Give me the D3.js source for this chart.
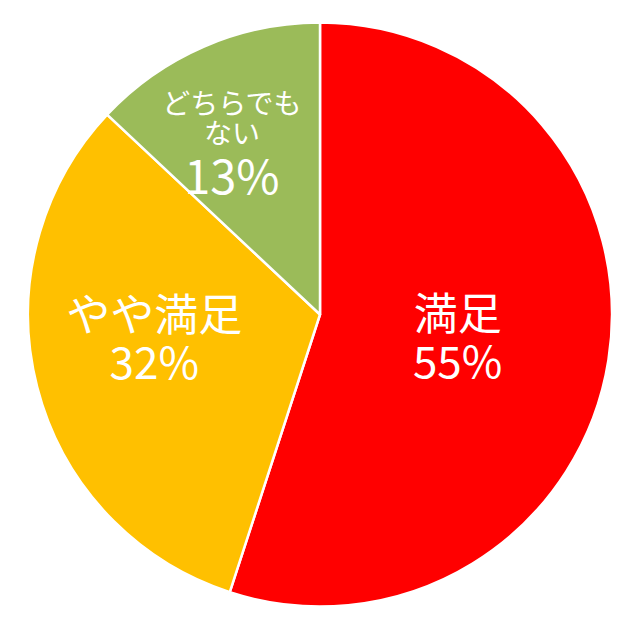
<!DOCTYPE html>
<html>
<head>
<meta charset="utf-8">
<script src="https://cdn.jsdelivr.net/npm/d3@7"></script>
<style>
  html, body { margin: 0; padding: 0; background: #fff; }
</style>
</head>
<body>
<div id="canvas"></div>
<script>
"use strict"

// chart data
let categories = ["満足", "やや満足", "どちらでもない"];
let values = [55, 32, 13];
let labelNames = [["満足"], ["やや満足"], ["どちらでも", "ない"]];
let colors = ["#FF0000", "#FFC000", "#9BBB59"];

// where each label sits: [angle in degrees clockwise from top, distance from centre]
let labelPolar = [[98, 139], [263, 167], [333, 194]];

let width = 640, height = 640;
let cx = 320, cy = 314.5, radius = 292;

let drawing = d3.select("#canvas")
    .append("svg")
    .attr("width", width)
    .attr("height", height);

let pieLayout = d3.pie()
    .value(d => d)
    .sort(null)
    .startAngle(0)
    .endAngle(2 * Math.PI);

let arcs = pieLayout(values);

let arcPath = d3.arc()
    .innerRadius(0)
    .outerRadius(radius);

let pieGroup = drawing.append("g")
    .attr("transform", `translate(${cx},${cy})`);

pieGroup.selectAll("path.slice")
    .data(arcs)
    .join("path")
    .attr("class", "slice")
    .attr("d", arcPath)
    .attr("fill", (d, i) => colors[i])
    .attr("stroke", "#fff")
    .attr("stroke-width", 2.5)
    .attr("stroke-linejoin", "round");

// labels: name line(s) then percentage, each line its own text
arcs.forEach((d, i) => {
    let ang = labelPolar[i][0] * Math.PI / 180;
    let r = labelPolar[i][1];
    let lx = Math.sin(ang) * r;
    let ly = -Math.cos(ang) * r;

    let lines = labelNames[i].map(t => ({ text: t, size: i === 2 ? 28 : 44 }));
    lines.push({ text: values[i] + "%", size: i === 2 ? 47 : 44 });

    // baseline offsets from the label point
    let offsets = lines.length === 2 ? [-4, 44] : [-28, 2, 52];

    lines.forEach((ln, j) => {
        pieGroup.append("text")
            .attr("x", lx)
            .attr("y", ly + offsets[j])
            .attr("text-anchor", "middle")
            .attr("fill", "#fff")
            .style("font-family", "'Noto Sans CJK JP', 'Noto Sans', sans-serif")
            .style("font-size", ln.size + "px")
            .text(ln.text);
    });
});
</script>
</body>
</html>
